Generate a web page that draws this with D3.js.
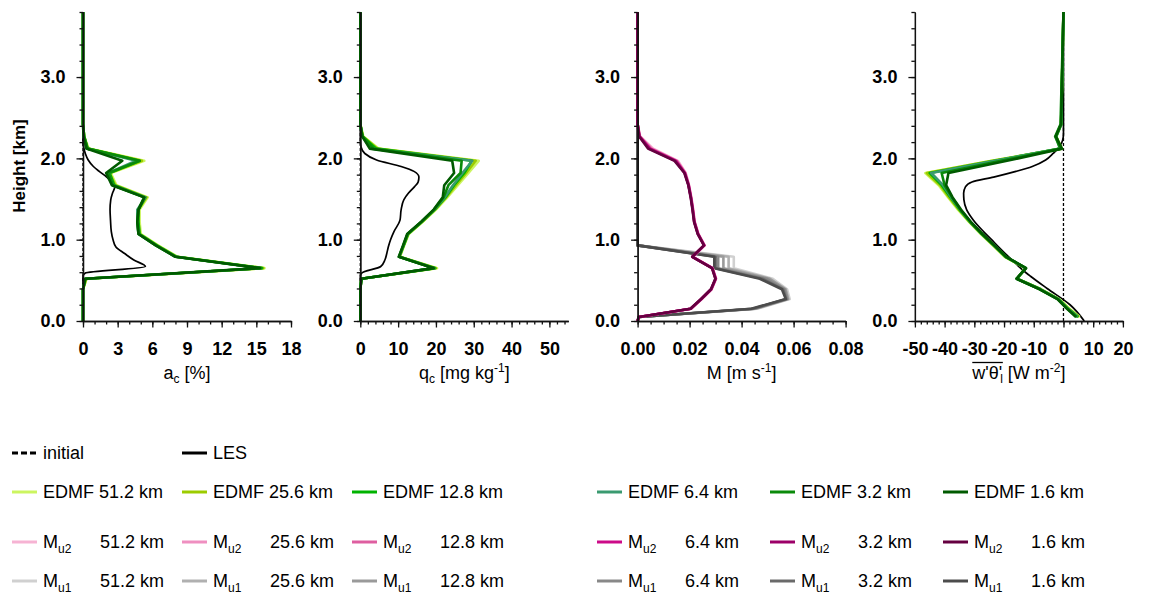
<!DOCTYPE html>
<html>
<head>
<meta charset="utf-8">
<script src="https://cdn.jsdelivr.net/npm/d3@7"></script>
<style>
  body { margin: 0; background: #fff; }
  svg { font-family: "Liberation Sans", Arial, sans-serif; }
</style>
</head>
<body>
<svg id="chart" width="1169" height="595"></svg>
<script>
// ---- data (heights in km) ----
const resolutions = ['51.2 km', '25.6 km', '12.8 km', '6.4 km', '3.2 km', '1.6 km'];

// EDMF model levels
const levels = [0.0, 0.05, 0.15, 0.27, 0.39, 0.52, 0.65, 0.79, 0.93, 1.07, 1.22, 1.37, 1.52, 1.67, 1.82, 1.97, 2.12, 2.27, 2.42, 3.8];
// LES output levels
const lesLevels = [0, 0.2, 0.4, 0.55, 0.59, 0.67, 0.75, 0.83, 0.91, 1.0, 1.1, 1.24, 1.37, 1.49, 1.57, 1.65, 1.71, 1.77, 1.84, 1.9, 1.98, 2.06, 2.14, 2.22, 2.3, 3.8];
const initialLevels = [0, 3.8];
const initialValues = [0, 0];

// cloud fraction a_c [%]
const acEdmf = [
  [0, 0, 0, 0, 0, 0.3, 15.7, 8.2, 6.5, 5.0, 4.9, 4.9, 5.6, 2.9, 2.4, 5.3, 0.5, 0.1, 0, 0],
  [0, 0, 0, 0, 0, 0.3, 15.6, 8.1, 6.4, 4.9, 4.8, 4.8, 5.5, 2.8, 2.3, 5.1, 0.4, 0.1, 0, 0],
  [0, 0, 0, 0, 0, 0.2, 15.5, 8.1, 6.4, 4.9, 4.8, 4.8, 5.4, 2.7, 2.3, 4.9, 0.4, 0.1, 0, 0],
  [0, 0, 0, 0, 0, 0.2, 15.4, 8.0, 6.3, 4.8, 4.7, 4.7, 5.4, 2.6, 2.2, 4.6, 0.3, 0.05, 0, 0],
  [0, 0, 0, 0, 0, 0.2, 15.4, 8.0, 6.3, 4.8, 4.7, 4.8, 5.3, 2.6, 2.2, 4.9, 0.4, 0.1, 0, 0],
  [0, 0, 0, 0, 0, 0.2, 15.3, 8.0, 6.3, 4.8, 4.7, 4.8, 5.3, 2.5, 2.0, 3.4, 0.3, 0.05, 0, 0]
];
const acLes = [0, 0, 0, 0, 0.2, 5.4, 4.4, 3.6, 2.85, 2.6, 2.45, 2.38, 2.34, 2.4, 2.55, 2.75, 2.5, 2.05, 1.4, 0.9, 0.45, 0.2, 0.05, 0, 0, 0];

// cloud water q_c [mg kg-1]
const qcEdmf = [
  [0, 0, 0, 0, 0, 0.3, 20.3, 10.5, 11.6, 12.8, 16.5, 20.0, 23.0, 25.8, 28.6, 31.3, 4.8, 0.8, 0, 0],
  [0, 0, 0, 0, 0, 0.3, 20.0, 10.4, 11.5, 12.7, 16.4, 19.8, 22.7, 25.3, 28.0, 30.5, 4.5, 0.7, 0, 0],
  [0, 0, 0, 0, 0, 0.3, 19.8, 10.3, 11.5, 12.6, 16.3, 19.7, 22.5, 24.8, 27.5, 29.5, 4.2, 0.6, 0, 0],
  [0, 0, 0, 0, 0, 0.3, 19.6, 10.3, 11.4, 12.5, 16.2, 19.6, 22.3, 24.5, 27.0, 29.6, 3.0, 0.5, 0, 0],
  [0, 0, 0, 0, 0, 0.3, 19.5, 10.2, 11.4, 12.5, 16.2, 19.5, 22.0, 23.3, 26.5, 26.8, 3.5, 0.6, 0, 0],
  [0, 0, 0, 0, 0, 0.3, 19.4, 10.2, 11.3, 12.4, 16.1, 19.4, 21.8, 22.2, 24.8, 24.3, 2.5, 0.5, 0, 0]
];
const qcLes = [0, 0, 0, 0, 0.4, 5.4, 6.5, 7.0, 7.4, 8.0, 8.9, 10.5, 10.8, 11.5, 12.7, 14.3, 15.3, 15.5, 14.2, 10.8, 4.3, 1.2, 0.2, 0, 0, 0];

// mass flux M [m s-1]
const mu2 = [
  [0, 0.0005, 0.0206, 0.0247, 0.0285, 0.0302, 0.0289, 0.0213, 0.0258, 0.0234, 0.0220, 0.0214, 0.0207, 0.0198, 0.0185, 0.0155, 0.0060, 0.0010, 0, 0],
  [0, 0.0005, 0.0205, 0.0246, 0.0284, 0.0301, 0.0288, 0.0212, 0.0257, 0.0233, 0.0219, 0.0213, 0.0206, 0.0197, 0.0184, 0.0152, 0.0055, 0.0009, 0, 0],
  [0, 0.0005, 0.0205, 0.0246, 0.0284, 0.0301, 0.0288, 0.0212, 0.0257, 0.0233, 0.0219, 0.0213, 0.0206, 0.0197, 0.0183, 0.0150, 0.0052, 0.0008, 0, 0],
  [0, 0.0005, 0.0204, 0.0245, 0.0283, 0.0300, 0.0287, 0.0211, 0.0256, 0.0232, 0.0218, 0.0212, 0.0205, 0.0196, 0.0182, 0.0148, 0.0048, 0.0007, 0, 0],
  [0, 0.0005, 0.0204, 0.0245, 0.0283, 0.0300, 0.0287, 0.0211, 0.0256, 0.0232, 0.0218, 0.0212, 0.0205, 0.0196, 0.0181, 0.0145, 0.0045, 0.0007, 0, 0],
  [0, 0.0005, 0.0203, 0.0244, 0.0282, 0.0299, 0.0286, 0.0210, 0.0255, 0.0231, 0.0217, 0.0211, 0.0204, 0.0195, 0.0180, 0.0142, 0.0040, 0.0006, 0, 0]
];
const mu1 = [
  [0, 0.0005, 0.0460, 0.0585, 0.0575, 0.0520, 0.0370, 0.0370, 0, 0, 0, 0, 0, 0, 0, 0, 0, 0, 0, 0],
  [0, 0.0005, 0.0455, 0.0580, 0.0570, 0.0510, 0.0350, 0.0350, 0, 0, 0, 0, 0, 0, 0, 0, 0, 0, 0, 0],
  [0, 0.0005, 0.0450, 0.0578, 0.0568, 0.0505, 0.0330, 0.0330, 0, 0, 0, 0, 0, 0, 0, 0, 0, 0, 0, 0],
  [0, 0.0005, 0.0447, 0.0575, 0.0565, 0.0495, 0.0310, 0.0310, 0, 0, 0, 0, 0, 0, 0, 0, 0, 0, 0, 0],
  [0, 0.0005, 0.0443, 0.0572, 0.0560, 0.0480, 0.0300, 0.0300, 0, 0, 0, 0, 0, 0, 0, 0, 0, 0, 0, 0],
  [0, 0.0005, 0.0437, 0.0570, 0.0555, 0.0470, 0.0295, 0.0295, 0, 0, 0, 0, 0, 0, 0, 0, 0, 0, 0, 0]
];

// liquid potential temperature flux w'theta_l' [W m-2]
const wthEdmf = [
  [null, 5.5, 2.0, -1.5, -7.5, -15.6, -12.8, -19.8, -23.8, -27.8, -31.8, -35.5, -38.8, -42.0, -46.5, -24.0, -0.5, -2.5, -0.8, 0],
  [null, 5.2, 1.8, -1.6, -7.6, -15.6, -12.8, -19.6, -23.6, -27.6, -31.6, -35.2, -38.5, -41.5, -46.0, -24.0, -0.8, -2.5, -0.8, 0],
  [null, 5.0, 1.6, -1.7, -7.7, -15.6, -12.7, -19.5, -23.5, -27.5, -31.5, -35.0, -38.0, -41.0, -45.0, -23.0, -1.0, -2.4, -0.7, 0],
  [null, 4.8, 1.5, -1.8, -7.8, -15.7, -12.7, -19.4, -23.4, -27.4, -31.4, -34.8, -37.8, -40.5, -44.5, -23.0, -1.2, -2.6, -0.8, 0],
  [null, 4.5, 1.3, -2.0, -8.0, -15.8, -12.6, -19.3, -23.3, -27.3, -31.3, -34.7, -37.5, -40.0, -41.0, -21.0, -1.0, -2.8, -1.0, 0],
  [null, 4.2, 1.2, -2.0, -8.0, -15.8, -12.6, -19.3, -23.3, -27.3, -31.2, -34.5, -37.3, -39.5, -38.7, -19.0, -0.5, -2.6, -0.8, 0]
];
const wthLes = [7, 2.2, -5.5, -11.1, -12.5, -15, -17.3, -19.6, -21.8, -24.2, -26.9, -30.3, -32.6, -33.5, -33.6, -33, -30.8, -23.5, -16, -10.5, -6, -3.5, -1.4, -0.3, 0, 0];

// ---- styles ----
const edmfColors = ['#ccf560', '#9ccc00', '#00b300', '#3a9a70', '#0a8a0a', '#005a00'];
const mu2Colors = ['#f6b3d3', '#ef8fc0', '#de5ea0', '#cc0b88', '#9c0068', '#650040'];
const mu1Colors = ['#d0d0d0', '#b0b0b0', '#9a9a9a', '#888888', '#6a6a6a', '#4c4c4c'];

const svg = d3.select('#chart');
const plotTop = 12, plotBottom = 321, plotW = 208, plotLeft = 83, plotStep = 277.3;
const y = d3.scaleLinear().domain([0, 3.8]).range([plotBottom, plotTop]);

const pairs = (zs, vs) => zs.map((z, i) => [z, vs[i]]);
const initialLayer = { data: pairs(initialLevels, initialValues), color: '#000', width: 1.3, dash: '3,2' };
const lesLayer = vs => ({ data: pairs(lesLevels, vs), color: '#000', width: 1.7, smooth: true });
const seriesLayers = (sets, colors, w) => sets.map((vs, i) => ({ data: pairs(levels, vs), color: colors[i], width: w }));
const plain = d => String(+d.toFixed(3)); // hyphen-minus like the original

const panels = [
  {
    domain: [0, 18], major: d3.range(0, 19, 3), minor: d3.range(0, 18.01, 1), fmt: plain,
    title: [{ t: 'a' }, { t: 'c', sub: true }, { t: ' [%]' }],
    layers: [initialLayer, lesLayer(acLes), ...seriesLayers(acEdmf, edmfColors, 2.6)]
  },
  {
    domain: [0, 55], major: d3.range(0, 51, 10), minor: d3.range(0, 55.01, 2), fmt: plain,
    title: [{ t: 'q' }, { t: 'c', sub: true }, { t: ' [mg kg' }, { t: '-1', sup: true }, { t: ']' }],
    layers: [initialLayer, lesLayer(qcLes), ...seriesLayers(qcEdmf, edmfColors, 2.6)]
  },
  {
    domain: [0, 0.08], major: d3.range(0, 0.0801, 0.02), minor: d3.range(0, 0.0801, 0.005), fmt: d3.format('.2f'),
    title: [{ t: 'M [m s' }, { t: '-1', sup: true }, { t: ']' }],
    layers: [...seriesLayers(mu1, mu1Colors, 2.6), ...seriesLayers(mu2, mu2Colors, 2.6)]
  },
  {
    domain: [-50, 20], major: d3.range(-50, 21, 10), minor: d3.range(-50, 20.01, 2), fmt: plain,
    title: [{ t: "w'θ'", over: true }, { t: 'l', sub: true, over: true, dx: -2 }, { t: ' [W m' }, { t: '-2', sup: true }, { t: ']' }],
    layers: [initialLayer, lesLayer(wthLes), ...seriesLayers(wthEdmf, edmfColors, 2.6)]
  }
];

panels.forEach((p, pi) => {
  const x0 = plotLeft + pi * plotStep;
  const x = d3.scaleLinear().domain(p.domain).range([x0, x0 + plotW]);
  const g = svg.append('g');

  // lines
  p.layers.forEach(l => {
    const line = d3.line()
      .defined(d => d[1] != null)
      .x(d => x(d[1]))
      .y(d => y(d[0]));
    let data = l.data;
    if (l.smooth) {
      line.curve(d3.curveMonotoneY);
      data = data.slice().reverse();
    }
    g.append('path')
      .datum(data)
      .attr('d', line)
      .attr('fill', 'none')
      .attr('stroke', l.color)
      .attr('stroke-width', l.width)
      .attr('stroke-dasharray', l.dash || null)
      .attr('stroke-linejoin', 'round');
  });

  // y axis
  const yMinor = g.append('g').attr('transform', `translate(${x0},0)`)
    .call(d3.axisLeft(y).tickValues(d3.range(0, 3.81, 0.2)).tickSize(3.5).tickSizeOuter(0).tickFormat(''));
  const yMajor = g.append('g').attr('transform', `translate(${x0},0)`)
    .call(d3.axisLeft(y).tickValues([0, 1, 2, 3]).tickSize(6.5).tickSizeOuter(0).tickPadding(11).tickFormat(d3.format('.1f')));
  // x axis
  const xMinor = g.append('g').attr('transform', `translate(0,${plotBottom})`)
    .call(d3.axisBottom(x).tickValues(p.minor).tickSize(3.5).tickSizeOuter(0).tickFormat(''));
  const xMajor = g.append('g').attr('transform', `translate(0,${plotBottom})`)
    .call(d3.axisBottom(x).tickValues(p.major).tickSize(6.5).tickSizeOuter(0).tickPadding(15).tickFormat(p.fmt));

  [yMinor, yMajor, xMinor, xMajor].forEach(a => {
    a.attr('font-family', null).attr('font-size', 18).attr('font-weight', 'bold');
    a.selectAll('path,line').attr('stroke', '#111').attr('stroke-width', 1.3);
  });

  // title
  const cx = x0 + plotW / 2;
  const t = g.append('text').attr('x', cx).attr('y', 379).attr('font-size', 18).attr('text-anchor', 'middle');
  let shift = 0;
  p.title.forEach(part => {
    const ts = t.append('tspan').text(part.t);
    let dy = -shift;
    if (part.sub) { ts.attr('font-size', 12); dy += 4; shift = 4; }
    else if (part.sup) { ts.attr('font-size', 12); dy += -7; shift = -7; }
    else shift = 0;
    if (dy) ts.attr('dy', dy);
    if (part.dx) ts.attr('dx', part.dx);
  });
  // overline above the flux symbol
  const overCount = p.title.filter(d => d.over).reduce((s, d) => s + d.t.length, 0);
  if (overCount) {
    const node = t.node();
    const first = node.getExtentOfChar(0);
    const last = node.getExtentOfChar(overCount - 1);
    g.append('line')
      .attr('x1', first.x).attr('x2', last.x + last.width)
      .attr('y1', first.y - 0.5).attr('y2', first.y - 0.5)
      .attr('stroke', '#000').attr('stroke-width', 1.3);
  }
});

// y label
svg.append('text')
  .attr('transform', 'translate(25,166) rotate(-90)')
  .attr('text-anchor', 'middle')
  .attr('font-size', 17)
  .attr('font-weight', 'bold')
  .text('Height [km]');

// ---- legend ----
const legendCols = [12, 182, 352, 597, 770, 943];
const legendRows = [453, 492, 542, 581];
const leg = svg.append('g').attr('font-size', 18);

function legendLine(cx, cy, color, dash) {
  leg.append('line')
    .attr('x1', cx).attr('x2', cx + 25).attr('y1', cy).attr('y2', cy)
    .attr('stroke', color).attr('stroke-width', 3)
    .attr('stroke-dasharray', dash || null);
}

legendLine(legendCols[0], legendRows[0], '#000', '6,3');
leg.append('text').attr('x', legendCols[0] + 31).attr('y', legendRows[0]).attr('dy', '0.35em').text('initial');
legendLine(legendCols[1], legendRows[0], '#000');
leg.append('text').attr('x', legendCols[1] + 31).attr('y', legendRows[0]).attr('dy', '0.35em').text('LES');

resolutions.forEach((r, i) => {
  const cx = legendCols[i];
  legendLine(cx, legendRows[1], edmfColors[i]);
  leg.append('text').attr('x', cx + 31).attr('y', legendRows[1]).attr('dy', '0.35em').text('EDMF ' + r);

  [[mu2Colors, 'u2', legendRows[2]], [mu1Colors, 'u1', legendRows[3]]].forEach(([cols, sub, ry]) => {
    legendLine(cx, ry, cols[i]);
    const tx = leg.append('text').attr('x', cx + 31).attr('y', ry).attr('dy', '0.35em');
    tx.append('tspan').text('M');
    tx.append('tspan').attr('font-size', 12).attr('dy', 5).text(sub);
    leg.append('text').attr('x', cx + 88).attr('y', ry).attr('dy', '0.35em').text(r);
  });
});
</script>
</body>
</html>
